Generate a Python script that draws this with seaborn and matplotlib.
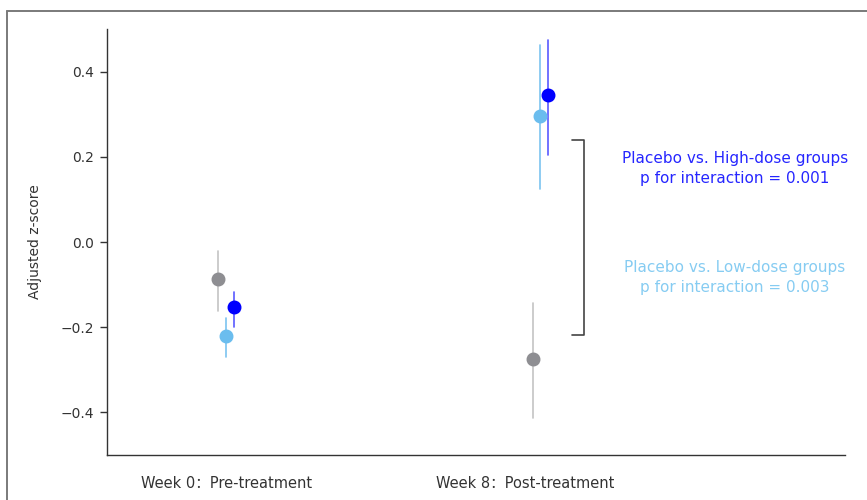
import seaborn as sns
import pandas as pd
import matplotlib.pyplot as plt
import matplotlib.colors as mcolors
from matplotlib.lines import Line2D

# adjusted z-scores (mean, lower CI, upper CI)
timepoints = ["Week 0\uff1aPre-treatment", "Week 8\uff1aPost-treatment"]
groups = ["Placebo", "Low-dose", "High-dose"]

placebo_mean = [-0.086, -0.274]
placebo_lo = [-0.161, -0.412]
placebo_hi = [-0.021, -0.143]

low_mean = [-0.220, 0.295]
low_lo = [-0.269, 0.124]
low_hi = [-0.178, 0.463]

high_mean = [-0.152, 0.344]
high_lo = [-0.199, 0.204]
high_hi = [-0.117, 0.475]

marker_colors = {"Placebo": "#8e8e92", "Low-dose": "#6bbdee", "High-dose": "#0000ff"}
err_colors = {"Placebo": "#c4c4c4", "Low-dose": "#7cc4f0", "High-dose": "#5a5aff"}

# long table: three rows per point so that median = mean and 100% interval = CI
rows = {"time": [], "group": [], "z": []}
for g, m, lo, hi in [("Placebo", placebo_mean, placebo_lo, placebo_hi),
                     ("Low-dose", low_mean, low_lo, low_hi),
                     ("High-dose", high_mean, high_lo, high_hi)]:
    for i, t in enumerate(timepoints):
        for v in (lo[i], m[i], hi[i]):
            rows["time"].append(t)
            rows["group"].append(g)
            rows["z"].append(v)
df = pd.DataFrame(rows)

sns.set_theme(style="white")
plt.rcParams['font.family'] = ['DejaVu Sans', 'Noto Sans CJK SC']

fig = plt.figure(figsize=(8.67, 5), dpi=100)
ax = fig.add_axes([0.1234, 0.09, 0.8512, 0.852])

sns.pointplot(data=df, x="time", y="z", hue="group", order=timepoints,
              hue_order=groups, palette=marker_colors, estimator="median",
              errorbar=("pi", 100), dodge=0.05, linestyle="none",
              markersize=8, err_kws={"linewidth": 1.2}, ax=ax)

# recolour the CI lines (lighter than the dots)
for ln in ax.lines:
    xd = ln.get_xdata()
    if len(xd) == 2 and xd[0] == xd[1]:
        c = mcolors.to_hex(ln.get_color())
        for g, mc in marker_colors.items():
            if mcolors.to_hex(mc) == c:
                ln.set_color(err_colors[g])
                ln.set_zorder(1)
    else:
        ln.set_zorder(3)

if ax.get_legend() is not None:
    ax.get_legend().remove()

ax.set_xlim(-0.38, 1.97)
ax.set_ylim(-0.5, 0.5)
ax.set_xticks([0, 0.952], labels=timepoints)
ax.set_yticks([-0.4, -0.2, 0.0, 0.2, 0.4])
ax.set_yticklabels(["\u22120.4", "\u22120.2", "0.0", "0.2", "0.4"])
ax.tick_params(axis="y", length=5, width=1, color="#333333", labelsize=10,
               labelcolor="#333333", pad=4, left=True)
ax.tick_params(axis="x", length=0, labelsize=10.5, labelcolor="#333333", pad=15)
ax.set_xlabel("")
ax.set_ylabel("Adjusted z-score", fontsize=10, color="#333333", labelpad=14)

for s in ["top", "right"]:
    ax.spines[s].set_visible(False)
for s in ["left", "bottom"]:
    ax.spines[s].set_color("#333333")
    ax.spines[s].set_linewidth(1)

# bracket and annotation
ax.plot([1.102, 1.140, 1.140, 1.102], [0.239, 0.239, -0.218, -0.218],
        color="#444444", lw=1.2, clip_on=False)
ax.text(1.62, 0.172, "Placebo vs. High-dose groups\np for interaction = 0.001",
        color="#2626ff", ha="center", va="center", fontsize=11, linespacing=1.4)
ax.text(1.62, -0.083, "Placebo vs. Low-dose groups\np for interaction = 0.003",
        color="#86ccf2", ha="center", va="center", fontsize=11, linespacing=1.4)

# outer frame of the panel
fig.add_artist(Line2D([0.008, 0.008], [-0.01, 0.978], color="#7a7a7a", lw=1.4))
fig.add_artist(Line2D([0.008, 1.01], [0.978, 0.978], color="#7a7a7a", lw=1.4))

fig.savefig("out.png", dpi=100)
